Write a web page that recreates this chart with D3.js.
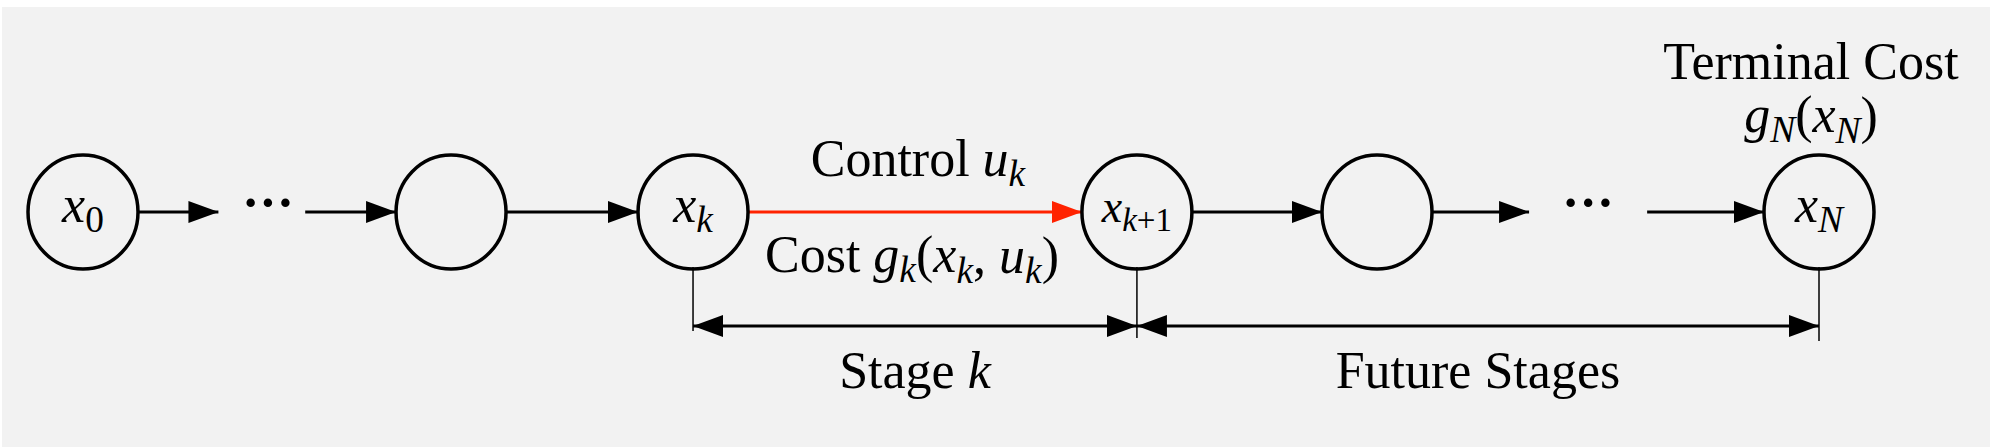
<!DOCTYPE html>
<html><head><meta charset="utf-8">
<script src="https://cdn.jsdelivr.net/npm/d3@7"></script>
<style>body{margin:0;background:#fff}svg text{font-family:"Liberation Serif","DejaVu Serif",serif}</style>
</head><body><div id="chart"></div>
<script>
// node positions along the chain (0..100), label parts [main, subscript]
var nodeIds = ["x0", "a", "xk", "xk1", "b", "xN"];
var nodePos = [0, 21.2, 35.14, 60.71, 74.54, 100];
var nodeLabels = [["x", "0"], null, ["x", "k"], ["x", "k", "+1"], null, ["x", "N"]];
var dotsPos = [10.66, 86.7];
// edges: [from, to, colour]  (numbers = positions, strings = node ids)
var edges = [["x0", 7.8, "#000"], [12.8, "a", "#000"], ["a", "xk", "#000"],
             ["xk", "xk1", "#ff2200"], ["xk1", "b", "#000"], ["b", 83.3, "#000"], [90.1, "xN", "#000"]];
var spans = [["xk", "xk1", "Stage ", "k"], ["xk1", "xN", "Future Stages", ""]];

var W = 2002, H = 447, cy = 212, r = 55, fs = 52;
var x = d3.scaleLinear().domain([0, 100]).range([83, 1819]);
var svg = d3.select("#chart").append("svg").attr("width", W).attr("height", H);
svg.append("rect").attr("x", 2).attr("y", 7).attr("width", 1988).attr("height", 440).attr("fill", "#f2f2f2");

var defs = svg.append("defs");
["#000", "#ff2200"].forEach(function (c, i) {
    defs.append("marker").attr("id", "m" + i).attr("viewBox", "0 0 30 22").attr("refX", 30).attr("refY", 11)
        .attr("markerWidth", 30).attr("markerHeight", 22).attr("markerUnits", "userSpaceOnUse").attr("orient", "auto-start-reverse")
        .append("path").attr("d", "M0,0L30,11L0,22Z").attr("fill", c);
});
var posOf = function (v) { return typeof v === "number" ? x(v) : x(nodePos[nodeIds.indexOf(v)]); };
var edgeX = function (v, out) { return typeof v === "number" ? x(v) : posOf(v) + (out ? r : -r); };

svg.selectAll(".edge").data(edges).enter().append("line")
    .attr("x1", d => edgeX(d[0], true)).attr("x2", d => edgeX(d[1], false))
    .attr("y1", cy).attr("y2", cy).attr("stroke", d => d[2]).attr("stroke-width", 3.2)
    .attr("marker-end", d => d[2] === "#000" ? "url(#m0)" : "url(#m1)");

svg.selectAll(".node").data(nodePos).enter().append("ellipse")
    .attr("cx", d => x(d)).attr("cy", cy).attr("rx", r).attr("ry", 57)
    .attr("fill", "none").attr("stroke", "#000").attr("stroke-width", 3.5);

function mathLabel(sel, parts, size) {
    sel.append("tspan").attr("font-style", "italic").text(parts[0]);
    if (parts[1]) sel.append("tspan").attr("font-style", /^[a-zN]/.test(parts[1]) ? "italic" : "normal")
        .attr("font-size", size * 0.72).attr("dy", size * 0.2).text(parts[1]);
    if (parts[2]) sel.append("tspan").attr("font-size", size * 0.72).text(parts[2]);
}
nodePos.forEach(function (p, i) {
    if (!nodeLabels[i]) return;
    var s = nodeLabels[i][2] ? 46 : fs;
    var t = svg.append("text").attr("x", x(p)).attr("y", cy + 10).attr("text-anchor", "middle").attr("font-size", s);
    mathLabel(t, nodeLabels[i], s);
});
svg.selectAll(".dots").data(dotsPos).enter().append("text")
    .attr("x", d => x(d)).attr("y", cy + 8).attr("text-anchor", "middle").attr("font-size", 52)
    .attr("font-weight", "bold").text("···");

// vertical tick lines and dimension arrows
["xk", "xk1", "xN"].forEach(function (id, i) {
    svg.append("line").attr("x1", posOf(id)).attr("x2", posOf(id)).attr("y1", cy + r).attr("y2", [331, 338, 341][i])
        .attr("stroke", "#000").attr("stroke-width", 1.5);
});
spans.forEach(function (s) {
    var a = posOf(s[0]), b = posOf(s[1]);
    svg.append("line").attr("x1", a).attr("x2", b).attr("y1", 326).attr("y2", 326)
        .attr("stroke", "#000").attr("stroke-width", 3.2).attr("marker-start", "url(#m0)").attr("marker-end", "url(#m0)");
    var t = svg.append("text").attr("x", (a + b) / 2).attr("y", 388).attr("text-anchor", "middle").attr("font-size", fs);
    t.append("tspan").text(s[2]);
    if (s[3]) t.append("tspan").attr("font-style", "italic").text(s[3]);
});

// annotations
var mid = (posOf("xk") + posOf("xk1")) / 2;
var c1 = svg.append("text").attr("x", mid + 3).attr("y", 176).attr("text-anchor", "middle").attr("font-size", fs);
c1.append("tspan").text("Control ");
mathLabel(c1, ["u", "k"], fs);
var c2 = svg.append("text").attr("x", mid - 3).attr("y", 272).attr("text-anchor", "middle").attr("font-size", fs);
c2.append("tspan").text("Cost ");
mathLabel(c2, ["g", "k"], fs);
c2.append("tspan").attr("dy", -10).text("(");
mathLabel(c2, ["x", "k"], fs);
c2.append("tspan").attr("dy", -10).text(", ");
mathLabel(c2, ["u", "k"], fs);
c2.append("tspan").attr("dy", -10).text(")");

var xn = posOf("xN");
svg.append("text").attr("x", xn - 8).attr("y", 79).attr("text-anchor", "middle").attr("font-size", fs).text("Terminal Cost");
var t3 = svg.append("text").attr("x", xn - 8).attr("y", 132).attr("text-anchor", "middle").attr("font-size", fs);
mathLabel(t3, ["g", "N"], fs);
t3.append("tspan").attr("dy", -10).text("(");
mathLabel(t3, ["x", "N"], fs);
t3.append("tspan").attr("dy", -10).text(")");
</script></body></html>
